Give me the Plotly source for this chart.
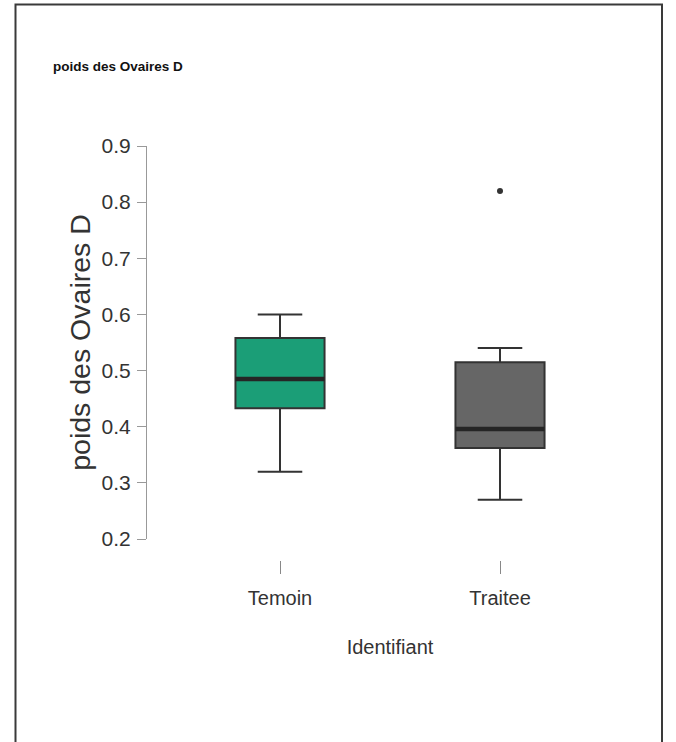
import plotly.graph_objects as go

# Box summaries per group
groups = ["Temoin", "Traitee"]
q1 = [0.433, 0.362]
median = [0.485, 0.396]
q3 = [0.558, 0.515]
lower_whisker = [0.32, 0.27]
upper_whisker = [0.60, 0.54]
fill_colors = ["#1B9E77", "#666666"]

# Outlying points
outlier_group = [1]
outlier_value = [0.82]

y_ticks = [0.2, 0.3, 0.4, 0.5, 0.6, 0.7, 0.8, 0.9]

W, H = 676, 742
L, R, T, B = 147, 43, 146, 182      # plot area 147..633 x 146..560
px_y02 = 539                         # pixel row of 0.2
plot_h = H - T - B
plot_w = W - L - R

sans = "Liberation Sans, Arial, Helvetica, sans-serif"

box_w = 0.405
fig = go.Figure()
for i, g in enumerate(groups):
    fig.add_trace(go.Box(
        x=[i], q1=[q1[i]], median=[median[i]], q3=[q3[i]],
        lowerfence=[lower_whisker[i]], upperfence=[upper_whisker[i]],
        width=box_w, whiskerwidth=0.5,
        fillcolor=fill_colors[i],
        line=dict(color="#333333", width=2),
        boxpoints=False, name=g, showlegend=False, hoverinfo="skip",
    ))
    # thicker median bar
    fig.add_trace(go.Scatter(
        x=[i - box_w / 2, i + box_w / 2], y=[median[i], median[i]],
        mode="lines", line=dict(color="#252525", width=4.5),
        showlegend=False, hoverinfo="skip",
    ))

fig.add_trace(go.Scatter(
    x=outlier_group, y=outlier_value, mode="markers",
    marker=dict(color="#333333", size=6),
    showlegend=False, hoverinfo="skip",
))

y_dom0 = (H - B - px_y02) / plot_h

# outer frame, in paper units
def px_to_paper_x(px):
    return (px - L) / plot_w

def px_to_paper_y(py):
    return (H - B - py) / plot_h

fig.add_shape(type="rect", xref="paper", yref="paper",
              x0=px_to_paper_x(15.5), x1=px_to_paper_x(662),
              y0=px_to_paper_y(760), y1=px_to_paper_y(4.5),
              line=dict(color="#3a3a3a", width=2), fillcolor="rgba(0,0,0,0)")

fig.update_layout(
    width=W, height=H,
    margin=dict(l=L, r=R, t=T, b=B),
    paper_bgcolor="white", plot_bgcolor="white",
    title=dict(text="<b>poids des Ovaires D</b>", x=53 / W, xanchor="left",
               xref="container", yref="container", y=1 - 66 / H, yanchor="middle",
               font=dict(family=sans, size=13.5, color="#111111")),
    xaxis=dict(
        range=[-(280 - L) / 220, (633 - 280) / 220],
        tickvals=[0, 1], ticktext=groups,
        anchor="free", position=0,
        showline=False, showgrid=False, zeroline=False,
        ticks="outside", ticklen=13, tickwidth=1, tickcolor="#888888",
        tickfont=dict(family=sans, size=20, color="#333333"),
        ticklabelstandoff=7,
        title=dict(text="Identifiant", standoff=31,
                   font=dict(family=sans, size=20, color="#333333")),
    ),
    yaxis=dict(
        domain=[y_dom0, 1],
        range=[0.2, 0.9],
        tickvals=y_ticks, ticktext=[f"{v:.1f}" for v in y_ticks],
        showline=True, linecolor="#999999", linewidth=1,
        showgrid=False, zeroline=False,
        ticks="outside", ticklen=9, tickwidth=1, tickcolor="#999999",
        tickfont=dict(family=sans, size=21, color="#333333"),
        ticklabelstandoff=2,
        title=dict(text="poids des Ovaires D", standoff=2,
                   font=dict(family=sans, size=28.5, color="#333333")),
    ),
)

fig.write_html("out.html")
